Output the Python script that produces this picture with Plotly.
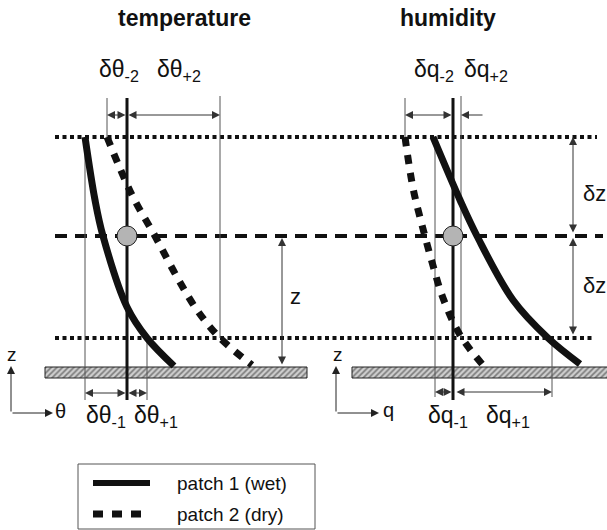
import plotly.graph_objects as go

# Diagram coordinates: x to the right, z measured downward on the canvas (pixels)
W, H = 607, 530

# Reference levels
z_top, z_mid, z_bot = 137, 236, 338
ground_top, ground_bot = 367, 378

# Profiles: temperature panel
temp_wet_x = [85, 95, 103, 127, 147, 174]
temp_wet_z = [137, 200, 236, 307, 338, 366]
temp_dry_x = [107, 132, 155, 177, 197, 220, 252]
temp_dry_z = [137, 195, 236, 277, 310, 338, 365]

# Profiles: humidity panel
hum_wet_x = [433, 460, 477, 513, 548, 580]
hum_wet_z = [137, 200, 236, 300, 338, 364]
hum_dry_x = [405, 413, 422, 432, 443, 460, 482]
hum_dry_z = [137, 188, 225, 262, 298, 335, 364]

# Mean-profile axes and the node on them
temp_center = 127
hum_center = 453

# Thin guide lines: (x, z_start, z_end)
guides = [(107, 98, 137), (220, 96, 338), (85, 137, 400), (147, 338, 400),
          (405, 98, 137), (461, 96, 338), (435, 137, 397), (552, 338, 397)]

# Dimension arrows: (x_tail, z_tail, x_tip, z_tip, heads at both ends)
dimensions = [
    (127, 115, 107, 115, True), (127, 115, 220, 115, True),
    (127, 393, 85, 393, True), (127, 393, 147, 393, True),
    (453, 115, 405, 115, True), (484, 115, 461, 115, False),
    (453, 392, 435, 392, True), (455, 392, 552, 392, True),
    (282, 366, 282, 238, True),
    (573, 234, 573, 137, True), (573, 336, 573, 238, True),
]

# Axis icons: (origin x, origin z, arrow tip x, arrow tip z)
axis_icons = [(11, 413, 53, 366), (336, 413, 379, 366)]

# Ground strips: (x_left, x_right)
grounds = [(45, 307), (352, 610)]

BLACK = "#111111"
GREY = "#555555"
FONT = "Liberation Sans, Arial, sans-serif"

fig = go.Figure()

# Hatched ground strips
for gx0, gx1 in grounds:
    fig.add_trace(go.Scatter(
        x=[gx0, gx1, gx1, gx0, gx0],
        y=[ground_top, ground_top, ground_bot, ground_bot, ground_top],
        mode="lines", fill="toself",
        fillcolor="#cfcfcf",
        fillpattern=dict(shape="/", fgcolor="#2a2a2a", bgcolor="#d0d0d0",
                         size=4, solidity=0.45),
        line=dict(color="#222222", width=1),
        hoverinfo="skip", showlegend=False))

# Horizontal reference levels
for zz, dash, x1 in [(z_top, "4px,3.5px", 597),
                     (z_mid, "12px,8px", 603),
                     (z_bot, "4px,3.5px", 592)]:
    fig.add_trace(go.Scatter(x=[55, x1], y=[zz, zz], mode="lines",
                             line=dict(color=BLACK, width=4, dash=dash),
                             hoverinfo="skip", showlegend=False))

# Thin guide lines
for gx, g0, g1 in guides:
    fig.add_trace(go.Scatter(x=[gx, gx], y=[g0, g1], mode="lines",
                             line=dict(color=GREY, width=1),
                             hoverinfo="skip", showlegend=False))

# Thick centre lines
for cx in (temp_center, hum_center):
    fig.add_trace(go.Scatter(x=[cx, cx], y=[98, 400], mode="lines",
                             line=dict(color=BLACK, width=3),
                             hoverinfo="skip", showlegend=False))

# Profiles
for xs, zs, dash in [(temp_wet_x, temp_wet_z, "solid"),
                     (temp_dry_x, temp_dry_z, "9px,9px"),
                     (hum_wet_x, hum_wet_z, "solid"),
                     (hum_dry_x, hum_dry_z, "9px,9px")]:
    fig.add_trace(go.Scatter(x=xs, y=zs, mode="lines",
                             line=dict(color=BLACK, width=7, dash=dash,
                                       shape="spline", smoothing=1.0),
                             hoverinfo="skip", showlegend=False))

# Nodes on the centre lines
for cx in (temp_center, hum_center):
    fig.add_shape(type="circle", xref="x", yref="y",
                  x0=cx - 10, x1=cx + 10, y0=z_mid - 10, y1=z_mid + 10,
                  fillcolor="#b4b4b4", line=dict(color="#222222", width=1))


def arrow(x_tail, y_tail, x_tip, y_tip, both=True, color="#333333"):
    fig.add_annotation(x=x_tip, y=y_tip, ax=x_tail, ay=y_tail,
                       xref="x", yref="y", axref="x", ayref="y",
                       text="", showarrow=True,
                       arrowhead=2, arrowsize=1.6, arrowwidth=1,
                       startarrowhead=2, startarrowsize=1.6,
                       arrowside="end+start" if both else "end",
                       arrowcolor=color, standoff=0, startstandoff=0)


for x0, y0, x1, y1, both in dimensions:
    arrow(x0, y0, x1, y1, both)

# Axis icons (z up, variable to the right)
for ox, oy, tx, tz in axis_icons:
    arrow(ox, oy, ox, tz, False, color="#222222")
    arrow(ox, oy, tx, oy, False, color="#222222")


def label(x, y, text, size=23):
    fig.add_annotation(x=x, y=y, xref="x", yref="y", text=text, showarrow=False,
                       font=dict(family=FONT, size=size, color="#111111"),
                       xanchor="center", yanchor="middle")


label(184, 18, "<b>temperature</b>", size=23)
label(448, 18, "<b>humidity</b>", size=23)

label(119, 70, "δθ<sub>-2</sub>")
label(179, 70, "δθ<sub>+2</sub>")
label(106, 416, "δθ<sub>-1</sub>")
label(156, 416, "δθ<sub>+1</sub>")

label(434, 70, "δq<sub>-2</sub>")
label(486, 70, "δq<sub>+2</sub>")
label(448, 416, "δq<sub>-1</sub>")
label(508, 416, "δq<sub>+1</sub>")

label(295, 296, "z", size=22)
label(594, 193, "δz", size=22)
label(594, 285, "δz", size=22)

label(12, 354, "z", size=19)
label(60, 411, "θ", size=20)
label(338, 354, "z", size=19)
label(388, 410, "q", size=20)

# Legend box
fig.add_shape(type="rect", xref="x", yref="y", x0=78, x1=315, y0=464, y1=529,
              line=dict(color="#555555", width=1), fillcolor="rgba(0,0,0,0)")
fig.add_trace(go.Scatter(x=[93, 150], y=[483, 483], mode="lines",
                         line=dict(color=BLACK, width=6),
                         hoverinfo="skip", showlegend=False))
fig.add_trace(go.Scatter(x=[93, 150], y=[514, 514], mode="lines",
                         line=dict(color=BLACK, width=7, dash="10px,9px"),
                         hoverinfo="skip", showlegend=False))
for yy, txt in [(483, "patch 1 (wet)"), (514, "patch 2 (dry)")]:
    fig.add_annotation(x=175, y=yy, xref="x", yref="y", text=txt, showarrow=False,
                       font=dict(family=FONT, size=19, color="#111111"),
                       xanchor="left", yanchor="middle")

fig.update_layout(
    width=W, height=H, margin=dict(l=0, r=0, t=0, b=0),
    paper_bgcolor="white", plot_bgcolor="white",
    xaxis=dict(range=[0, W], visible=False, fixedrange=True),
    yaxis=dict(range=[H, 0], visible=False, fixedrange=True),
    showlegend=False,
)

fig.write_html("out.html")
